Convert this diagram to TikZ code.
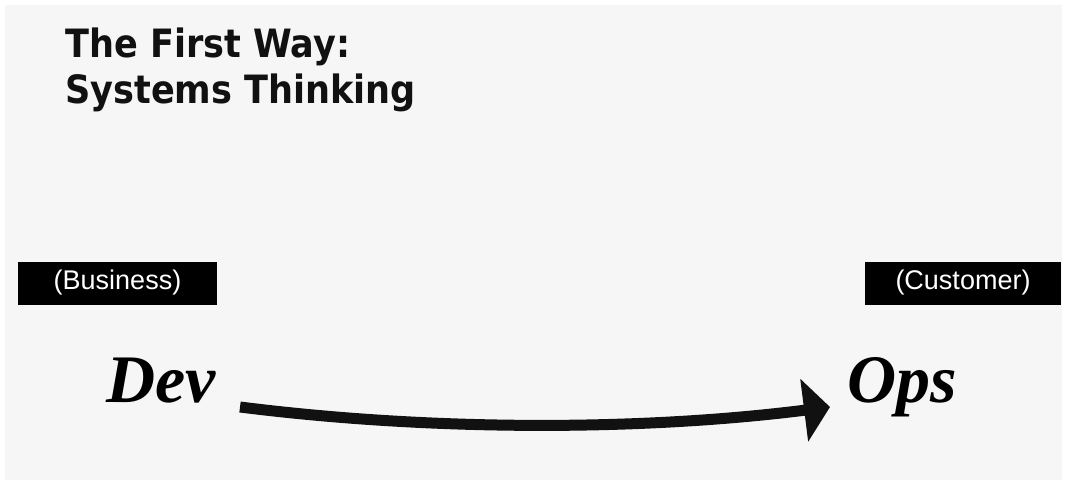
\documentclass[tikz,border=0pt]{standalone}
\usepackage{fontspec}
\usetikzlibrary{arrows.meta}
\setmainfont{Liberation Sans}
\newfontfamily\titlefont{DejaVu Sans Condensed}
\newfontfamily\fancyfont{Liberation Serif}
\definecolor{bgcol}{HTML}{F6F6F6}
\definecolor{inkcol}{HTML}{111111}
\tikzset{
  titletext/.style={anchor=base west, inner sep=0pt, font=\titlefont\bfseries\fontsize{39}{47}\selectfont, text=inkcol},
  labelbox/.style={fill=black, text=white, inner sep=0pt, minimum height=43pt, font=\fontsize{27}{30}\selectfont},
  fancy/.style={anchor=base west, inner sep=0pt, font=\fancyfont\bfseries\itshape\fontsize{68}{72}\selectfont, text=black},
  flowarrow/.style={draw=inkcol, line width=11pt, -{Triangle[length=26pt,width=62pt]}}
}
\begin{document}
\begin{tikzpicture}[x=1pt,y=-1pt]
\useasboundingbox (0,0) rectangle (1066,484);
\fill[white] (0,0) rectangle (1066,484);
\fill[bgcol] (5,5) rectangle (1062,480);
\node[titletext] (t1) at (65,58) {The First Way:};
\node[titletext] (t2) at (65,104) {Systems Thinking};
\node[labelbox, minimum width=199pt] (business) at (117.5,283) {(Business)};
\node[labelbox, minimum width=196pt] (customer) at (963,283) {(Customer)};
\node[fancy] (dev) at (106,402) {Dev};
\node[fancy] (ops) at (847,402) {Ops};
\draw[flowarrow] ([xshift=134pt]dev.base west |- 0,407) .. controls +(190,24) and +(-190,24) .. ([xshift=-17pt]ops.base west |- 0,407);
\end{tikzpicture}
\end{document}
